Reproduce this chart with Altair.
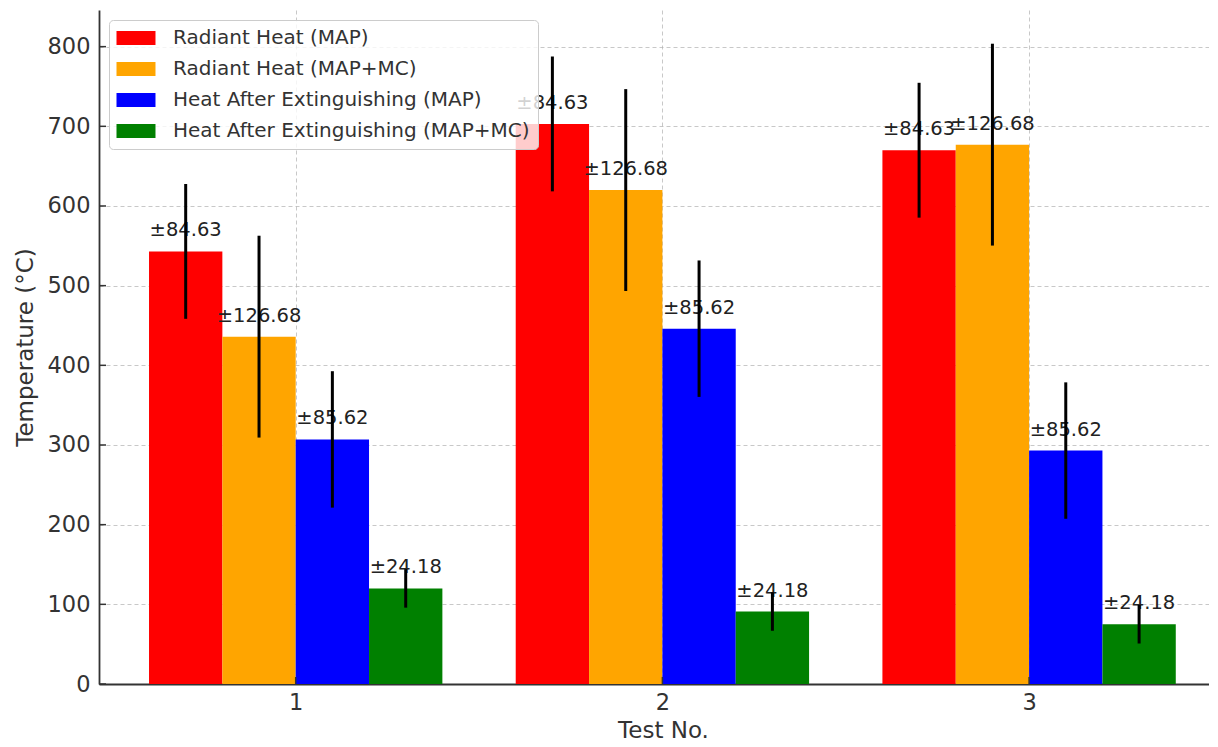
import altair as alt
import pandas as pd

# ---- data ----
tests = [1, 2, 3]
series = [
    "Radiant Heat (MAP)",
    "Radiant Heat (MAP+MC)",
    "Heat After Extinguishing (MAP)",
    "Heat After Extinguishing (MAP+MC)",
]
radiant_map = [543, 703, 670]
radiant_map_mc = [436, 620, 677]
after_map = [307, 446, 293]
after_map_mc = [120, 91, 75]
errors = [84.63, 126.68, 85.62, 24.18]
colors = ["#ff0000", "#ffa500", "#0000ff", "#008000"]
y_ticks = [0, 100, 200, 300, 400, 500, 600, 700, 800]

rows = []
for si, (name, vals, err) in enumerate(
    zip(series, [radiant_map, radiant_map_mc, after_map, after_map_mc], errors)
):
    for t, v in zip(tests, vals):
        rows.append({"test": t, "series": name, "idx": si, "value": v,
                     "err": err, "label": f"±{err:.2f}"})
df = pd.DataFrame(rows)

FONT = "DejaVu Sans"
W, H = 1110, 674
xscale = alt.Scale(domain=[0.4636, 3.4906], nice=False, zero=False)
yscale = alt.Scale(domain=[0, 846], nice=False)

base = alt.Chart(df).transform_calculate(
    x0="datum.test + (datum.idx - 2) * 0.2",
    x1="datum.test + (datum.idx - 1) * 0.2",
    xm="datum.test + (datum.idx - 1.5) * 0.2",
    lo="datum.value - datum.err",
    hi="datum.value + datum.err",
)

bars = base.mark_bar(strokeWidth=0).encode(
    x=alt.X("x0:Q", scale=xscale,
            axis=alt.Axis(values=tests, format="d", title="Test No.",
                          labelPadding=7, titlePadding=6, titleX=564)),
    x2="x1:Q",
    y=alt.Y("value:Q", scale=yscale,
            axis=alt.Axis(values=y_ticks, title="Temperature (°C)",
                          labelPadding=9, titlePadding=10)),
    y2=alt.datum(0),
    color=alt.Color(
        "series:N",
        scale=alt.Scale(domain=series, range=colors),
        sort=series,
        title=None,
        legend=alt.Legend(
            orient="top-left", offset=10, padding=8,
            fillColor="rgba(255,255,255,0.8)", strokeColor="#cccccc",
            cornerRadius=4,
            symbolType="M-1.5,-1H4.07V1H-1.5Z", symbolSize=196,
            symbolStrokeWidth=0, symbolOpacity=1,
            labelFont=FONT, labelFontSize=20, labelColor="#333333",
            labelOffset=36, labelLimit=600, rowPadding=11,
        ),
    ),
)

labels = base.mark_text(dy=-15, baseline="alphabetic", align="center",
                        font=FONT, fontSize=19.5, color="#222222").encode(
    x=alt.X("xm:Q", scale=xscale),
    y=alt.Y("value:Q", scale=yscale),
    text="label:N",
)

errbars = base.mark_rule(color="black", strokeWidth=3).encode(
    x=alt.X("xm:Q", scale=xscale),
    y=alt.Y("lo:Q", scale=yscale),
    y2="hi:Q",
)

ytick_marks = alt.Chart(pd.DataFrame({"value": y_ticks})).mark_rule(
    color="#333333", strokeWidth=1.5).encode(
    y=alt.Y("value:Q", scale=yscale),
    x=alt.value(0), x2=alt.value(7),
)
xtick_marks = alt.Chart(pd.DataFrame({"x0": tests})).mark_rule(
    color="#333333", strokeWidth=1.5).encode(
    x=alt.X("x0:Q", scale=xscale),
    y=alt.value(H), y2=alt.value(H - 7),
)

chart = alt.layer(bars, labels, errbars, ytick_marks, xtick_marks).properties(
    width=W, height=H,
    autosize=alt.AutoSizeParams(type="none"),
    padding={"left": 91, "top": 2, "right": 0, "bottom": 60},
).configure_view(strokeWidth=0).configure_axis(
    labelFont=FONT, titleFont=FONT,
    labelFontSize=22.5, titleFontSize=23,
    labelColor="#333333", titleColor="#333333",
    titleFontWeight="normal",
    domainColor="#333333", domainWidth=1.8,
    ticks=False,
    grid=True, gridColor="#b0b0b0", gridOpacity=0.7, gridDash=[4, 3], gridWidth=1,
    zindex=1,
)

chart.save("out.html", embed_options={"renderer": "svg", "actions": False})
